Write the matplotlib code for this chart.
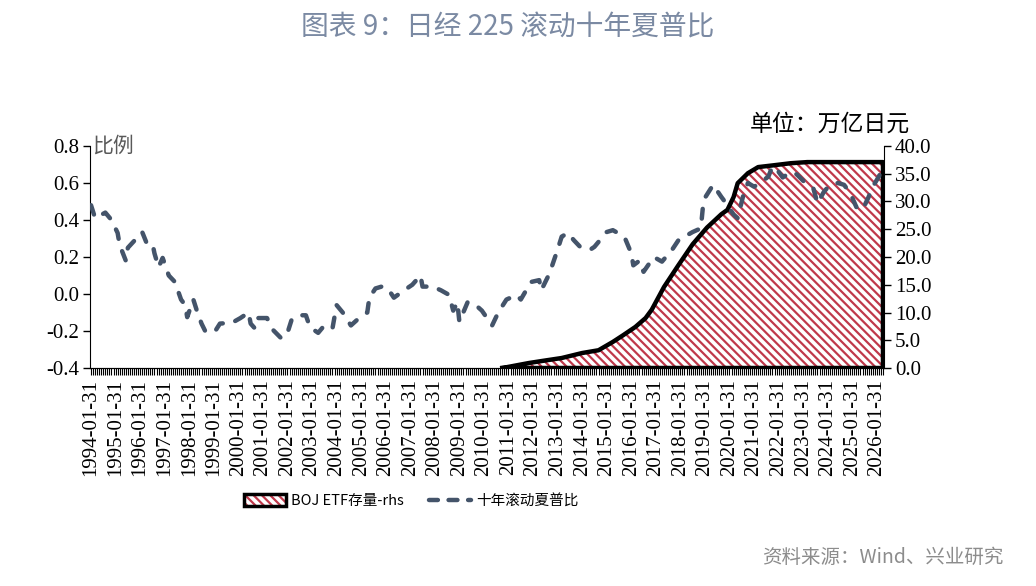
import matplotlib
matplotlib.use("Agg")
import matplotlib.pyplot as plt
from matplotlib.patches import Patch
from matplotlib.lines import Line2D
from matplotlib.legend_handler import HandlerTuple

# ---------------- data ----------------
start_month = "1994-01"
end_month = "2026-04"
tick_labels = [f"{y}-01-31" for y in range(1994, 2027)]

sharpe_months = [
    "1994-01", "1994-03", "1994-08", "1994-11", "1995-02", "1995-03", "1995-06", "1995-07",
    "1995-12", "1996-02", "1996-04", "1996-07", "1996-08", "1996-10", "1996-12", "1997-03",
    "1997-06", "1997-09", "1997-11", "1997-12", "1998-03", "1998-05", "1998-07", "1998-09",
    "1998-11", "1999-02", "1999-04", "1999-10", "2000-02", "2000-06", "2000-07", "2000-09",
    "2000-10", "2001-03", "2001-06", "2001-10", "2002-01", "2002-03", "2002-06", "2002-10",
    "2002-12", "2003-04", "2003-07", "2003-11", "2004-01", "2004-04", "2004-08", "2004-11",
    "2005-04", "2005-05", "2005-08", "2005-11", "2006-02", "2006-05", "2006-10", "2007-02",
    "2007-06", "2007-07", "2007-12", "2008-04", "2008-08", "2008-10", "2008-12", "2009-01",
    "2009-05", "2009-08", "2009-12", "2010-05", "2010-08", "2010-12", "2011-05", "2011-07",
    "2011-12", "2012-04", "2012-05", "2012-09", "2013-01", "2013-03", "2013-06", "2013-09",
    "2013-12", "2014-05", "2014-07", "2015-01", "2015-04", "2015-08", "2015-10", "2016-01",
    "2016-02", "2016-05", "2016-07", "2016-12", "2017-04", "2017-09", "2017-12", "2018-03",
    "2018-07", "2018-11", "2018-12", "2019-01", "2019-05", "2019-09", "2019-10", "2020-03",
    "2020-05", "2020-08", "2020-10", "2021-01", "2021-04", "2021-08", "2021-10", "2022-01",
    "2022-03", "2022-05", "2022-08", "2022-10", "2023-03", "2023-06", "2023-08", "2023-11",
    "2024-02", "2024-06", "2024-09", "2024-12", "2025-03", "2025-06", "2025-09", "2025-11",
    "2026-02", "2026-04",
]
sharpe_values = [
    0.48, 0.41, 0.44, 0.40, 0.33, 0.265, 0.18, 0.25,
    0.31, 0.335, 0.28, 0.275, 0.22, 0.145, 0.195, 0.10,
    0.065, -0.03, -0.06, -0.125, -0.03, -0.10, -0.16, -0.205,
    -0.195, -0.195, -0.16, -0.155, -0.13, -0.10, -0.16, -0.185,
    -0.13, -0.13, -0.195, -0.24, -0.21, -0.14, -0.115, -0.115,
    -0.18, -0.21, -0.17, -0.185, -0.06, -0.10, -0.17, -0.14,
    -0.10, -0.02, 0.03, 0.04, 0.03, -0.02, 0.02, 0.05,
    0.10, 0.04, 0.04, 0.02, -0.005, -0.09, -0.045, -0.15,
    -0.045, -0.05, -0.09, -0.17, -0.10, -0.03, -0.005, -0.03,
    0.065, 0.075, 0.02, 0.11, 0.24, 0.31, 0.33, 0.29,
    0.255, 0.24, 0.255, 0.335, 0.345, 0.32, 0.30, 0.22,
    0.155, 0.18, 0.12, 0.20, 0.175, 0.24, 0.29, 0.31,
    0.335, 0.355, 0.47, 0.52, 0.59, 0.525, 0.51, 0.43,
    0.41, 0.545, 0.60, 0.58, 0.60, 0.635, 0.69, 0.66,
    0.63, 0.645, 0.66, 0.645, 0.59, 0.57, 0.49, 0.55,
    0.59, 0.60, 0.59, 0.545, 0.47, 0.455, 0.525, 0.58,
    0.635, 0.69,
]

etf_months = [
    "2010-10", "2011-11", "2012-06", "2013-03", "2014-01", "2014-09", "2015-04", "2015-09",
    "2016-03", "2016-08", "2016-11", "2017-05", "2017-12", "2018-07", "2019-02", "2019-09",
    "2019-12", "2020-03", "2020-05", "2020-10", "2021-03", "2021-10", "2022-07", "2023-03",
    "2026-04",
]
etf_values = [
    0.0, 0.9, 1.3, 1.8, 2.7, 3.2, 4.7, 5.9,
    7.4, 9.0, 10.5, 14.6, 18.5, 22.3, 25.3, 27.7,
    28.5, 30.8, 33.3, 35.1, 36.2, 36.5, 36.9, 37.1,
    37.1,
]


def month_index(s):
    y, m = s.split("-")
    y0, m0 = start_month.split("-")
    return (int(y) - int(y0)) * 12 + int(m) - int(m0)


n_cat = month_index(end_month) + 1
sx = [month_index(s) for s in sharpe_months]
ex = [month_index(s) for s in etf_months]

# ---------------- style ----------------
plt.rcParams["font.family"] = ["Liberation Serif", "Noto Sans CJK SC"]
plt.rcParams["hatch.linewidth"] = 1.6
cjk = ["Noto Sans CJK SC", "DejaVu Sans"]

line_color = "#44546A"
hatch_color = "#C0394B"
dash_style = (0, (2.2, 2.9))

fig = plt.figure(figsize=(10.36, 5.86), dpi=100)
ax = fig.add_axes([90 / 1036, 1 - 368 / 586, (884 - 90) / 1036, (368 - 146) / 586])
ax2 = ax.twinx()

# ETF area on right axis
ax2.fill_between(ex, 0, etf_values, facecolor="white", edgecolor=hatch_color,
                 hatch="\\\\\\\\", linewidth=0, zorder=1)
ox = [ex[0]] + ex + [ex[-1], ex[0]]
oy = [0] + etf_values + [0, 0]
ax2.plot(ox, oy, color="black", lw=3.2, solid_joinstyle="round", zorder=2)
ax2.set_ylim(0, 40)
ax2.set_yticks([0, 5, 10, 15, 20, 25, 30, 35, 40])
ax2.set_yticklabels([f"{v:.1f}" for v in [0, 5, 10, 15, 20, 25, 30, 35, 40]])

# Sharpe line on left axis
ax.plot(sx, sharpe_values, color=line_color, lw=3.2, linestyle=dash_style,
        dash_capstyle="round", zorder=3)
ax.set_ylim(-0.4, 0.8)
ax.set_yticks([-0.4, -0.2, 0.0, 0.2, 0.4, 0.6, 0.8])
ax.set_yticklabels([f"{v:.1f}" for v in [-0.4, -0.2, 0.0, 0.2, 0.4, 0.6, 0.8]])

ax.set_zorder(ax2.get_zorder() + 1)
ax.patch.set_visible(False)

ax.set_xlim(-0.5, n_cat - 0.5)
ax.set_xticks(range(n_cat))
labels = [""] * n_cat
for k, t in enumerate(tick_labels):
    labels[k * 12] = t
ax.set_xticklabels(labels, rotation=90)

for a in (ax, ax2):
    a.spines["top"].set_visible(False)
    a.tick_params(axis="y", labelsize=15, length=5, width=1, direction="out", pad=3)
ax.tick_params(axis="x", labelsize=15, length=5, width=0.8, direction="out", pad=3)
ax2.tick_params(axis="x", length=0)
ax.spines["right"].set_visible(False)
ax2.spines["left"].set_visible(False)

# annotations
ax.text(0.003, 1.0, "比例", transform=ax.transAxes, family=cjk, fontsize=15,
        color="#595959", ha="left", va="center")
fig.text(750 / 1036, 1 - 124 / 586, "单位：万亿日元", family=cjk, fontsize=16.5,
         color="black", ha="left", va="center")
fig.text(508 / 1036, 1 - 27 / 586, "图表 9：日经 225 滚动十年夏普比", family=cjk,
         fontsize=20, color="#7B8AA3", fontweight="medium", ha="center", va="center")
fig.text(1003 / 1036, 1 - 557 / 586, "资料来源：Wind、兴业研究", family=cjk,
         fontsize=14, color="#8C8C8C", ha="right", va="center")

# legend
h_area = (Patch(facecolor="white", edgecolor=hatch_color, hatch="\\\\\\\\", linewidth=0),
          Patch(facecolor="none", edgecolor="black", linewidth=2.5))
h_line = Line2D([], [], color=line_color, lw=3.2, linestyle=(0, (2.0, 2.4)),
                dash_capstyle="round")
fig.legend([h_area, h_line], ["BOJ ETF存量-rhs", "十年滚动夏普比"],
           handler_map={tuple: HandlerTuple(ndivide=1)},
           loc="center", bbox_to_anchor=(411 / 1036, 1 - 501 / 586), ncol=2,
           frameon=False, prop={"family": cjk, "size": 10.5}, handlelength=2.9,
           handleheight=0.85, columnspacing=1.7, handletextpad=0.35)

fig.savefig("out.png", dpi=100)
